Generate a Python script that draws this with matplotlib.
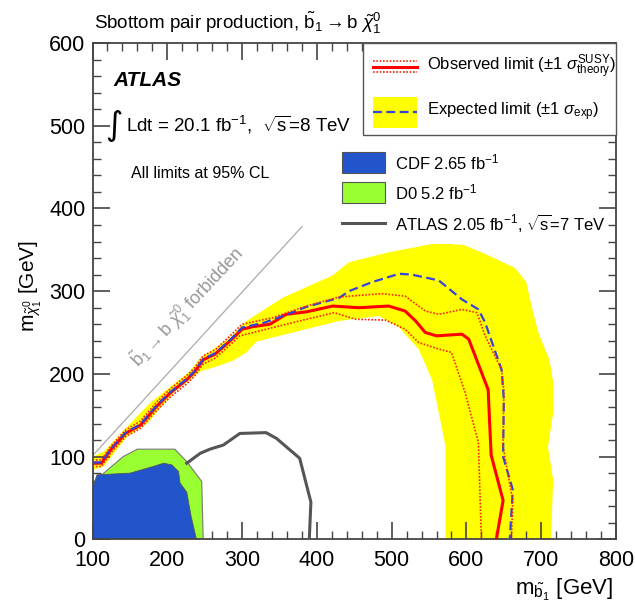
"""
Sbottom pair production exclusion limits (ATLAS style).
"""
import matplotlib
matplotlib.use('Agg')
import matplotlib.pyplot as plt
import matplotlib.patches as mpatches
from matplotlib.lines import Line2D
from matplotlib.ticker import MultipleLocator
import numpy as np

matplotlib.rcParams.update({
    'font.family': ['Liberation Sans', 'DejaVu Sans'],
    'mathtext.fontset': 'custom',
    'mathtext.rm': 'Liberation Sans',
    'mathtext.it': 'Liberation Sans:italic',
    'mathtext.bf': 'Liberation Sans:bold',
})

# ── Data (GeV) ────────────────────────────────────────────────────────────────
obs_x = [100, 112, 124, 144, 164, 186, 204, 226, 237, 248, 264, 284, 300, 314,
         337, 359, 386, 421, 456, 496, 518, 532, 545, 560, 594, 603, 629, 633,
         649, 640]
obs_y = [92, 92, 108, 128, 138, 161, 177, 193, 203, 217, 224, 240, 254, 257,
         260, 272, 275, 282, 280, 282, 276, 264, 250, 246, 248, 242, 181, 102,
         47, 0]

obs_up_x = [100, 112, 124, 144, 164, 186, 204, 226, 237, 248, 264, 284, 300,
            341, 386, 430, 487, 518, 545, 563, 594, 614, 625, 647, 650, 649,
            656, 662, 660]
obs_up_y = [96, 96, 112, 132, 143, 166, 182, 198, 208, 222, 229, 246, 260,
            268, 282, 293, 297, 294, 276, 272, 278, 274, 246, 205, 180, 112,
            76, 47, 0]

obs_dn_x = [100, 112, 124, 144, 164, 186, 204, 226, 237, 248, 264, 284, 297,
            341, 386, 423, 452, 492, 518, 536, 563, 580, 598, 616, 620]
obs_dn_y = [88, 88, 104, 124, 134, 156, 172, 188, 198, 212, 219, 235, 246,
            256, 266, 274, 266, 265, 254, 238, 230, 226, 178, 117, 0]

exp_x = [100, 112, 124, 144, 164, 186, 204, 226, 237, 248, 264, 284, 300, 330,
         354, 386, 430, 443, 474, 510, 527, 563, 594, 616, 625, 647, 650, 649,
         662, 658]
exp_y = [93, 93, 109, 129, 139, 162, 178, 194, 204, 218, 225, 241, 256, 262,
         270, 281, 292, 300, 311, 321, 320, 313, 290, 278, 262, 205, 169, 100,
         60, 0]

band_hi_x = [100, 115, 142, 177, 230, 244, 284, 306, 354, 421, 443, 496, 554,
             576, 596, 625, 665, 680, 687, 696, 711, 716, 716, 709, 716, 713]
band_hi_y = [100, 106, 132, 165, 203, 219, 244, 264, 292, 319, 335, 347, 357,
             357, 356, 345, 328, 311, 282, 250, 217, 190, 153, 112, 72, 0]
band_lo_x = [100, 115, 146, 173, 208, 244, 266, 288, 306, 319, 385, 430, 483,
             510, 536, 554, 563, 572, 572]
band_lo_y = [84, 88, 124, 140, 177, 203, 209, 216, 226, 239, 254, 264, 270,
             256, 230, 193, 153, 112, 0]

cdf_x = [100, 100, 106, 150, 181, 195, 206, 215, 217, 226, 232, 239]
cdf_y = [0, 62, 78, 80, 88, 92, 90, 82, 68, 57, 27, 0]

d0_x = [100, 100, 115, 141, 160, 210, 226, 246, 248]
d0_y = [0, 68, 80, 100, 109, 109, 94, 70, 0]

atlas7_x = [226, 244, 257, 275, 297, 332, 346, 377, 392, 390]
atlas7_y = [92, 104, 109, 114, 128, 129, 122, 98, 45, 3]

forb_x = [100, 380]
forb_y = [101, 378]

# ── Figure ────────────────────────────────────────────────────────────────────
fig = plt.figure(figsize=(6.35, 6.09), dpi=100)
ax = fig.add_axes([0.1457, 0.1144, 0.8244, 0.815])

ax.fill(np.concatenate([band_hi_x, band_lo_x[::-1]]),
        np.concatenate([band_hi_y, band_lo_y[::-1]]),
        color='#FFFF00', lw=0, zorder=1)

ax.plot(forb_x, forb_y, color='#AAAAAA', lw=0.9, zorder=1.5)
ax.text(226, 280, r'$\tilde{\mathrm{b}}_1\rightarrow\mathrm{b}\ \tilde{\chi}^0_1$ forbidden',
        rotation=47, color='#999999', fontsize=13, ha='center', va='center')

ax.fill(d0_x, d0_y, facecolor='#99FF33', edgecolor='#777777', lw=0.8, zorder=2)
ax.fill(cdf_x, cdf_y, facecolor='#2255CC', edgecolor='#555555', lw=0.6, zorder=2.1)
ax.plot(atlas7_x, atlas7_y, color='#555555', lw=2.2, zorder=3)

ax.plot(obs_x, obs_y, color='#FF0000', lw=2.2, zorder=4)
ax.plot(exp_x, exp_y, color='#3344DD', lw=1.6, ls=(0, (4, 2)), zorder=5)
ax.plot(obs_up_x, obs_up_y, color='#FF2200', lw=1.2, ls=(0, (1, 1)), zorder=6)
ax.plot(obs_dn_x, obs_dn_y, color='#FF2200', lw=1.2, ls=(0, (1, 1)), zorder=6)

# ── Axes ──────────────────────────────────────────────────────────────────────
ax.set_xlim(100, 800)
ax.set_ylim(0, 600)
ax.xaxis.set_major_locator(MultipleLocator(100))
ax.xaxis.set_minor_locator(MultipleLocator(20))
ax.yaxis.set_major_locator(MultipleLocator(100))
ax.yaxis.set_minor_locator(MultipleLocator(20))
ax.tick_params(which='both', direction='in', top=True, right=True,
               color='#444444', labelsize=15.5)
ax.tick_params(which='major', length=12, width=1.2)
ax.tick_params(which='minor', length=6, width=1.0)
ax.tick_params(axis='x', pad=8)
ax.tick_params(axis='y', pad=5)
for spine in ax.spines.values():
    spine.set_linewidth(1.3)
    spine.set_color('#444444')

fig.text(0.965, 0.031, r'm$_{\tilde{\mathrm{b}}_1}$ [GeV]', fontsize=16,
         ha='right', va='center')
fig.text(0.048, 0.53, r'm$_{\tilde{\chi}^0_1}$ [GeV]', fontsize=15,
         rotation=90, ha='center', va='center')
fig.text(0.148, 0.962,
         r'Sbottom pair production, $\tilde{\mathrm{b}}_1\rightarrow\mathrm{b}\ \tilde{\chi}^0_1$',
         fontsize=13.5, ha='left', va='center')

# ── Annotations ───────────────────────────────────────────────────────────────
ax.text(0.039, 0.925, 'ATLAS', transform=ax.transAxes, fontsize=15,
        fontweight='bold', style='italic', va='center')
ax.text(0.041, 0.833, '\u222b', transform=ax.transAxes, fontsize=24,
        family='DejaVu Sans', va='center', ha='center')
ax.text(0.064, 0.835, r'Ldt = 20.1 fb$^{-1}$,  $\sqrt{\mathrm{s}}$=8 TeV',
        transform=ax.transAxes, fontsize=13.5, va='center')
ax.text(0.0735, 0.738, 'All limits at 95% CL', transform=ax.transAxes,
        fontsize=11.5, va='center')

# ── Legends (drawn by hand, ROOT style) ──────────────────────────────────────
T = ax.transAxes
ax.add_patch(mpatches.Rectangle((0.517, 0.815), 0.483, 0.185, transform=T,
                                facecolor='white', edgecolor='#555555',
                                lw=1.0, zorder=10, clip_on=False))
ax.add_line(Line2D([0.536, 0.620], [0.952, 0.952], transform=T, color='#FF0000',
                   lw=2.2, zorder=11))
for dy in (-0.011, 0.011):
    ax.add_line(Line2D([0.536, 0.620], [0.952 + dy, 0.952 + dy], transform=T,
                       color='#FF2200', lw=1.2, ls=(0, (1, 1)), zorder=11))
ax.text(0.639, 0.952, r'Observed limit ($\pm$1 $\sigma^{\mathrm{SUSY}}_{\mathrm{theory}}$)',
        transform=T, fontsize=12, va='center', zorder=11)
ax.add_patch(mpatches.Rectangle((0.536, 0.829), 0.084, 0.063, transform=T,
                                facecolor='#FFFF00', lw=0, zorder=11))
ax.add_line(Line2D([0.536, 0.620], [0.861, 0.861], transform=T, color='#3344DD',
                   lw=1.6, ls=(0, (4, 2)), zorder=12))
ax.text(0.639, 0.862, r'Expected limit ($\pm$1 $\sigma_{\mathrm{exp}}$)',
        transform=T, fontsize=12, va='center', zorder=11)

ax.add_patch(mpatches.Rectangle((0.477, 0.738), 0.082, 0.043, transform=T,
                                facecolor='#2255CC', edgecolor='#555555',
                                lw=0.8, zorder=11))
ax.text(0.578, 0.760, r'CDF 2.65 fb$^{-1}$', transform=T, fontsize=12,
        va='center', zorder=11)
ax.add_patch(mpatches.Rectangle((0.477, 0.678), 0.082, 0.042, transform=T,
                                facecolor='#99FF33', edgecolor='#555555',
                                lw=0.8, zorder=11))
ax.text(0.578, 0.699, r'D0 5.2 fb$^{-1}$', transform=T, fontsize=12,
        va='center', zorder=11)
ax.add_line(Line2D([0.477, 0.559], [0.638, 0.638], transform=T, color='#555555',
                   lw=2.2, zorder=11))
ax.text(0.578, 0.638, r'ATLAS 2.05 fb$^{-1}$, $\sqrt{\mathrm{s}}$=7 TeV',
        transform=T, fontsize=12, va='center', zorder=11)

fig.savefig('out.png', dpi=100, facecolor='white')
